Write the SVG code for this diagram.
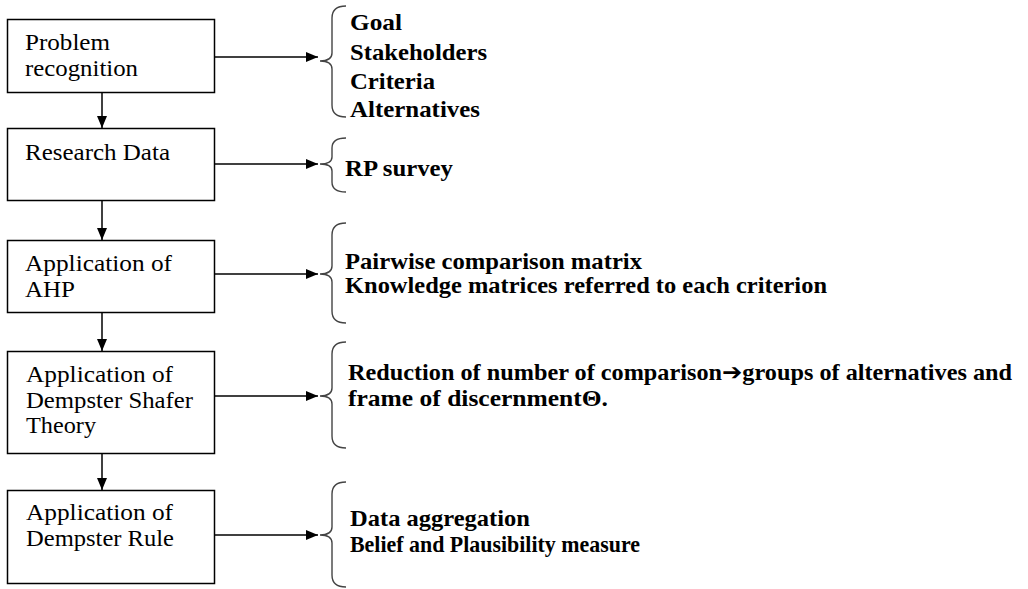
<svg xmlns="http://www.w3.org/2000/svg" width="1028" height="589" viewBox="0 0 1028 589">
  <style>
    .box { fill: #ffffff; stroke: #000000; stroke-width: 1.5; }
    text { font-family: 'Liberation Serif', 'Times New Roman', Times, serif; font-size: 23px; fill: #000000; }
    .note { font-weight: bold; }
    .sym { font-family: 'DejaVu Sans', sans-serif; }
    .link { stroke: #000000; stroke-width: 1.5; fill: none; }
    .brace { stroke: #444444; stroke-width: 1.4; fill: none; }
  </style>
  <defs>
    <marker id="arrowhead" markerUnits="userSpaceOnUse" markerWidth="12" markerHeight="10" refX="12" refY="5" orient="auto">
      <path d="M0,0 L12,5 L0,10 Z" fill="#000000"/>
    </marker>
  </defs>

  <rect width="1028" height="589" fill="#ffffff"/>

  <!-- process steps -->
  <g id="step-problem">
    <rect class="box" x="7.5" y="19.5" width="207" height="73"/>
    <text class="step" x="25" y="50" textLength="85" lengthAdjust="spacingAndGlyphs">Problem</text>
    <text class="step" x="25" y="76" textLength="113" lengthAdjust="spacingAndGlyphs">recognition</text>
  </g>
  <g id="step-research">
    <rect class="box" x="7.5" y="128.5" width="207" height="72"/>
    <text class="step" x="25" y="160" textLength="145" lengthAdjust="spacingAndGlyphs">Research Data</text>
  </g>
  <g id="step-ahp">
    <rect class="box" x="7.5" y="240.5" width="207" height="72"/>
    <text class="step" x="25" y="271" textLength="147" lengthAdjust="spacingAndGlyphs">Application of</text>
    <text class="step" x="25" y="297" textLength="50" lengthAdjust="spacingAndGlyphs">AHP</text>
  </g>
  <g id="step-ds-theory">
    <rect class="box" x="7.5" y="351.5" width="207" height="102"/>
    <text class="step" x="26" y="382" textLength="147" lengthAdjust="spacingAndGlyphs">Application of</text>
    <text class="step" x="26" y="408" textLength="167" lengthAdjust="spacingAndGlyphs">Dempster Shafer</text>
    <text class="step" x="26" y="433" textLength="70" lengthAdjust="spacingAndGlyphs">Theory</text>
  </g>
  <g id="step-ds-rule">
    <rect class="box" x="7.5" y="490.5" width="207" height="93"/>
    <text class="step" x="26" y="520" textLength="147" lengthAdjust="spacingAndGlyphs">Application of</text>
    <text class="step" x="26" y="546" textLength="148" lengthAdjust="spacingAndGlyphs">Dempster Rule</text>
  </g>

  <!-- outputs of each step -->
  <g id="out-problem">
    <path class="brace" d="M346,6 Q332,6 332,18 L332,53 Q332,61 320,61 Q332,61 332,69 L332,105 Q332,117 346,117"/>
    <text class="note" x="350" y="30" textLength="52" lengthAdjust="spacingAndGlyphs">Goal</text>
    <text class="note" x="350" y="60" textLength="137" lengthAdjust="spacingAndGlyphs">Stakeholders</text>
    <text class="note" x="350" y="89" textLength="85" lengthAdjust="spacingAndGlyphs">Criteria</text>
    <text class="note" x="350" y="117" textLength="130" lengthAdjust="spacingAndGlyphs">Alternatives</text>
  </g>
  <g id="out-research">
    <path class="brace" d="M346,138 Q332,138 332,148 L332,157 Q332,164 320,164 Q332,164 332,171 L332,182 Q332,192 346,192"/>
    <text class="note" x="345" y="176" textLength="108" lengthAdjust="spacingAndGlyphs">RP survey</text>
  </g>
  <g id="out-ahp">
    <path class="brace" d="M346,223 Q332,223 332,235 L332,266 Q332,274 320,274 Q332,274 332,282 L332,311 Q332,323 346,323"/>
    <text class="note" x="345" y="269" textLength="297" lengthAdjust="spacingAndGlyphs">Pairwise comparison matrix</text>
    <text class="note" x="345" y="293" textLength="482" lengthAdjust="spacingAndGlyphs">Knowledge matrices referred to each criterion</text>
  </g>
  <g id="out-ds-theory">
    <path class="brace" d="M346,342 Q332,342 332,354 L332,388 Q332,396 320,396 Q332,396 332,404 L332,436 Q332,448 346,448"/>
    <text class="note" x="348" y="380" textLength="664" lengthAdjust="spacingAndGlyphs">Reduction of number of comparison<tspan class="sym">➔</tspan>groups of alternatives and</text>
    <text class="note" x="348" y="406" textLength="260" lengthAdjust="spacingAndGlyphs">frame of discernmentΘ.</text>
  </g>
  <g id="out-ds-rule">
    <path class="brace" d="M346,482 Q332,482 332,494 L332,527 Q332,535 320,535 Q332,535 332,543 L332,575 Q332,587 346,587"/>
    <text class="note" x="350" y="526" textLength="180" lengthAdjust="spacingAndGlyphs">Data aggregation</text>
    <text class="note" x="350" y="552" textLength="290" lengthAdjust="spacingAndGlyphs">Belief and Plausibility measure</text>
  </g>

  <!-- connectors -->
  <g id="connectors">
    <line class="link" x1="102" y1="92" x2="102" y2="128" marker-end="url(#arrowhead)"/>
    <line class="link" x1="102" y1="200" x2="102" y2="240" marker-end="url(#arrowhead)"/>
    <line class="link" x1="102" y1="312" x2="102" y2="351" marker-end="url(#arrowhead)"/>
    <line class="link" x1="102" y1="453" x2="102" y2="490" marker-end="url(#arrowhead)"/>
    <line class="link" x1="215" y1="57" x2="318" y2="57" marker-end="url(#arrowhead)"/>
    <line class="link" x1="215" y1="164" x2="318" y2="164" marker-end="url(#arrowhead)"/>
    <line class="link" x1="215" y1="274" x2="318" y2="274" marker-end="url(#arrowhead)"/>
    <line class="link" x1="215" y1="396" x2="318" y2="396" marker-end="url(#arrowhead)"/>
    <line class="link" x1="215" y1="535" x2="318" y2="535" marker-end="url(#arrowhead)"/>
  </g>
</svg>
